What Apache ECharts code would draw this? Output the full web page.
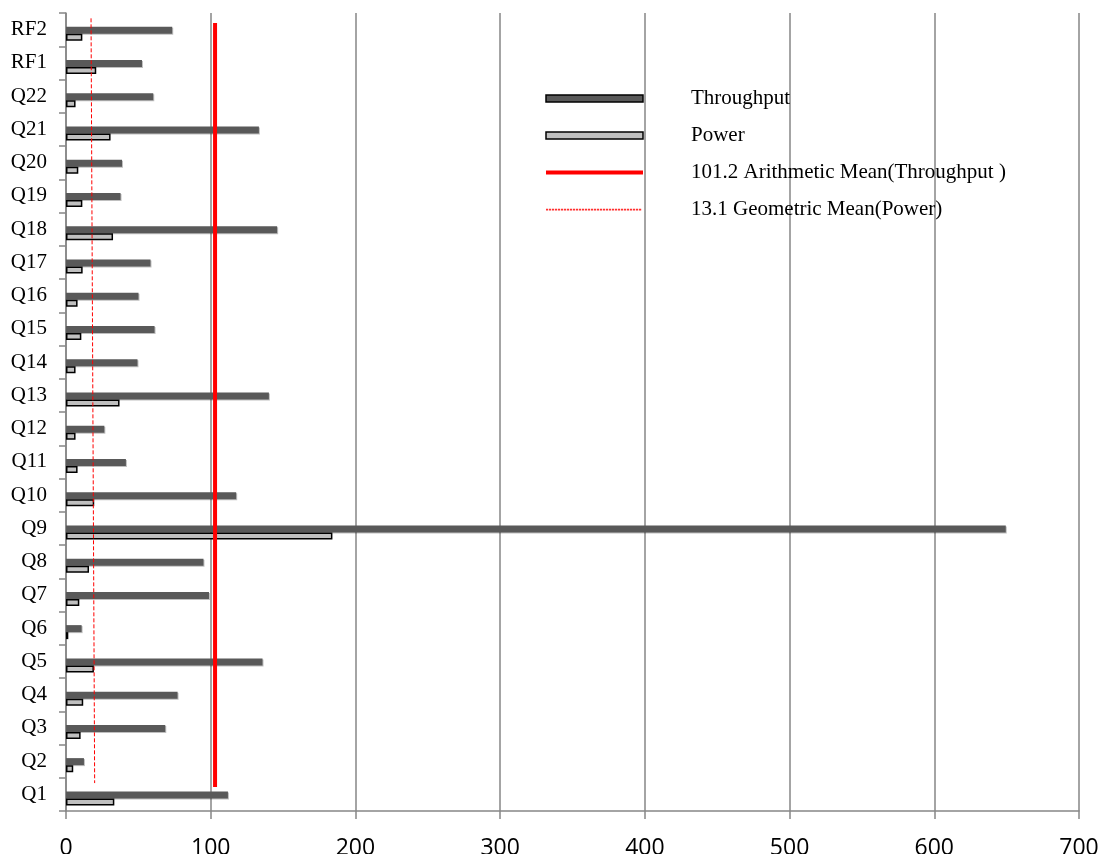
<!DOCTYPE html>
<html><head><meta charset="utf-8">
<script src="https://cdn.jsdelivr.net/npm/echarts@6/dist/echarts.min.js"></script>
<style>html,body{margin:0;padding:0;background:#fff}#c{width:1100px;height:854px}</style>
</head><body><div id="c"></div>
<script>
const categories = ['Q1','Q2','Q3','Q4','Q5','Q6','Q7','Q8','Q9','Q10','Q11','Q12','Q13','Q14','Q15','Q16','Q17','Q18','Q19','Q20','Q21','Q22','RF1','RF2'];
const throughput = [111.9,12.4,68.6,77.1,135.8,10.8,98.8,95.0,649.4,117.6,41.4,26.5,140.2,49.4,61.2,50.1,58.4,145.9,37.7,38.7,133.3,60.3,52.5,73.4];
const power = [33.4,5.0,10.1,11.9,19.3,1.6,9.2,15.9,184.1,19.5,8.0,6.6,37.0,6.6,10.6,8.0,11.5,32.5,11.3,8.5,30.8,6.6,20.9,11.3];
const xTicks = [0,100,200,300,400,500,600,700];
const arithLine = [[103.0,0.72],[103.0,23.7]];
const geoLine = [[17.3,23.84],[19.8,0.84]];
const names = ['Throughput','Power','101.2 Arithmetic Mean(Throughput )','13.1 Geometric Mean(Power)'];

// legend icon: thin dotted line inside a 97x7 box
let dotted = 'path://M0,0L0.01,0M97,7L96.99,7';
for (let x = 0; x + 2 <= 97; x += 3) dotted += 'M' + x + ',2.8h2.2v1.6h-2.2z';

const gray = '#868686';
const chart = echarts.init(document.getElementById('c'), null, {renderer:'canvas'});
chart.setOption({
  animation:false,
  backgroundColor:'#fff',
  grid:{left:66, right:21, top:13, bottom:43, containLabel:false, outerBoundsMode:'none'},
  legend:{
    orient:'vertical', left:544, top:88, padding:0,
    itemWidth:97, itemHeight:7, itemGap:16,
    data:[
      {name:names[0], icon:'rect', itemStyle:{color:'#595959', borderColor:'#000', borderWidth:1.5, shadowBlur:0, shadowOffsetX:0, shadowOffsetY:0}},
      {name:names[1], icon:'rect', itemStyle:{color:'#c0c0c0', borderColor:'#000', borderWidth:1.5}},
      {name:names[2], itemStyle:{color:'rgba(0,0,0,0)', borderWidth:0}, lineStyle:{color:'#ff0000', width:4}},
      {name:names[3], icon:dotted, itemStyle:{color:'#ff3030', borderColor:'#ff3030', borderWidth:0}}
    ],
    textStyle:{fontFamily:'Liberation Serif', fontSize:21, color:'#000', lineHeight:20, padding:[0,0,0,43]}
  },
  xAxis:{
    type:'value', min:xTicks[0], max:xTicks[xTicks.length-1], interval:100,
    axisLine:{show:true, lineStyle:{color:gray, width:1.5}},
    axisTick:{show:true, length:8, lineStyle:{color:gray, width:1.5}},
    splitLine:{show:true, lineStyle:{color:gray, width:1.5}},
    axisLabel:{fontFamily:'Open Sans', fontSize:23, color:'#000', margin:26}
  },
  yAxis:[{
    type:'category', data:categories,
    axisLine:{show:true, lineStyle:{color:gray, width:1.5}},
    axisTick:{show:true, length:7, lineStyle:{color:gray, width:1.5}},
    axisLabel:{fontFamily:'Liberation Serif', fontSize:21, color:'#000', margin:19}
  },{
    type:'value', min:0, max:24, show:false, splitLine:{show:false}
  }],
  series:[
    {type:'bar', name:'_spacer', data:[], barWidth:8, barGap:'0%', silent:true},
    {type:'bar', name:names[0], data:throughput, barWidth:7, barGap:'0%',
      itemStyle:{color:'#595959', shadowColor:'rgba(0,0,0,0.25)', shadowOffsetY:1, shadowOffsetX:1}},
    {type:'bar', name:names[1], data:power, barWidth:7, barGap:'0%',
      itemStyle:{color:'#c0c0c0', borderColor:'#000', borderWidth:1.5}},
    {type:'line', name:names[2], yAxisIndex:1, data:arithLine, symbol:'none', z:5,
      lineStyle:{color:'#ff0000', width:4}, itemStyle:{color:'#ff0000'}},
    {type:'line', name:names[3], yAxisIndex:1, data:geoLine, symbol:'none', z:5,
      lineStyle:{color:'#ff0000', width:1, type:[4,2]}, itemStyle:{color:'#ff0000'}}
  ]
});
</script></body></html>
